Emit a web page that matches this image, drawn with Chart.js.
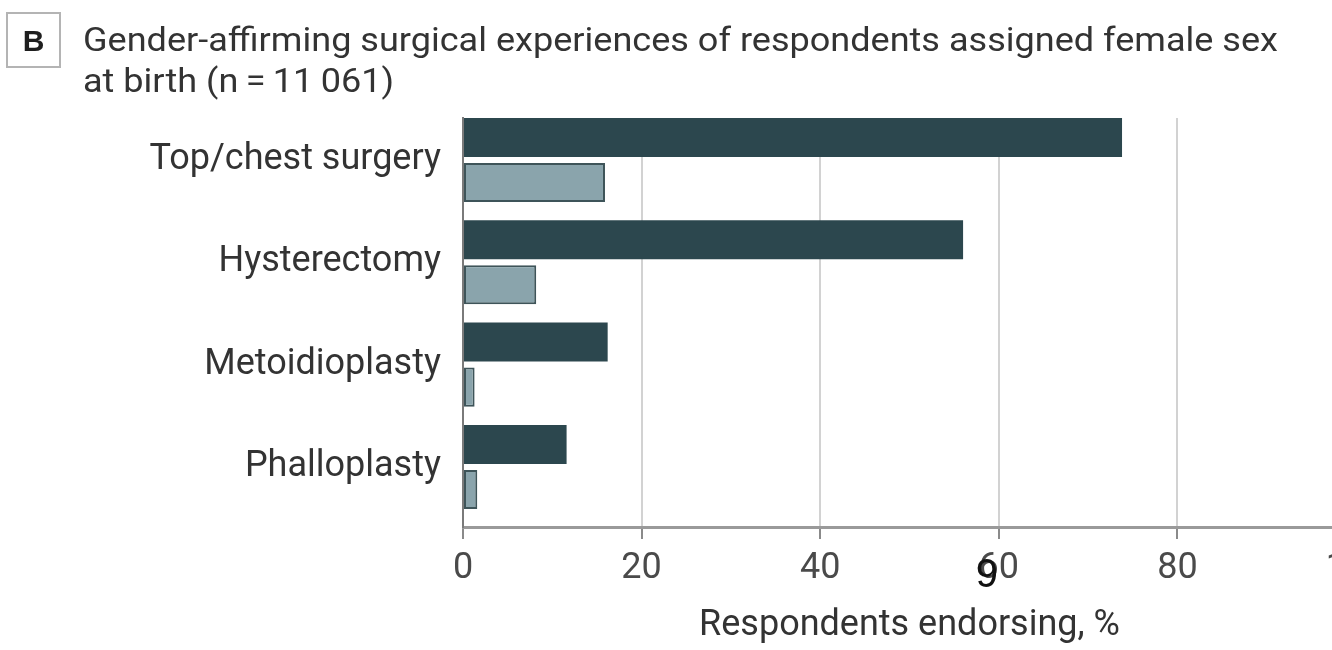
<!DOCTYPE html>
<html>
<head>
<meta charset="utf-8">
<script src="https://cdn.jsdelivr.net/npm/chart.js@4"></script>
<style>
  html, body { margin: 0; padding: 0; background: #fff; overflow: hidden; }
  #wrap { position: relative; width: 1332px; height: 650px; overflow: hidden; }
  #chart { position: absolute; left: 0; top: 0; }
  .panel {
    position: absolute; left: 6px; top: 12px; width: 51px; height: 52px;
    border: 2px solid #b4b4b4; color: #1e1e1e; text-align: center;
    font: bold 30px "Liberation Sans", Arial, sans-serif; line-height: 54px;
  }
  .title {
    position: absolute; left: 83px; top: 19px; color: #333;
    font: 34px Roboto, sans-serif; line-height: 41px; white-space: nowrap;
  }
</style>
</head>
<body>
<div id="wrap">
  <canvas id="chart" width="1400" height="650"></canvas>
  <div class="panel">B</div>
  <div class="title" id="title">
    <div id="t1">Gender-affirming surgical experiences of respondents assigned female sex</div>
    <div>at birth (n&thinsp;=&thinsp;11&thinsp;061)</div>
  </div>
</div>
<script>
const categories = ["Top/chest surgery", "Hysterectomy", "Metoidioplasty", "Phalloplasty"];
const hadSurgery = [73.8, 56.0, 16.2, 11.6];
const wantSurgery = [15.9, 8.2, 1.3, 1.6];
const xTicks = [0, 20, 40, 60, 80, 100];

const labelFont = "Roboto, sans-serif";

// squeeze the first title line to the width it has in the picture
const title = document.getElementById("title");
const w = document.getElementById("t1").getBoundingClientRect().width;
title.style.transformOrigin = "0 0";
title.style.transform = `scaleX(${1195 / w})`;

// category i sits at value i on a reversed linear axis
const toPoints = (arr) => arr.map((v, i) => ({ x: v, y: i }));

const ctx = document.getElementById("chart");
const config = {
  type: "bar",
  data: {
    datasets: [
      {
        label: "Had surgery",
        data: toPoints(hadSurgery),
        backgroundColor: "#2c474e",
        borderWidth: 0,
      },
      {
        label: "Want surgery",
        data: toPoints(wantSurgery),
        backgroundColor: "#8aa4ac",
        borderColor: "#3e5459",
        borderWidth: 2,
        borderSkipped: false,
      },
    ],
  },
  options: {
    indexAxis: "y",
    responsive: false,
    devicePixelRatio: 1,
    animation: false,
    events: [],
    categoryPercentage: 0.88,
    barPercentage: 0.867,
    layout: { padding: { top: 118, right: 44, left: 0, bottom: 0 } },
    plugins: { legend: { display: false }, tooltip: { enabled: false } },
    scales: {
      x: {
        type: "linear",
        min: 0,
        max: 100,
        afterBuildTicks: (scale) => {
          scale.ticks = xTicks.map((v) => ({ value: v }));
        },
        afterFit: (scale) => {
          scale.height = 123;
        },
        ticks: {
          font: { family: labelFont, size: 36 },
          color: "#4a4a4a",
          padding: 8,
          maxRotation: 0,
          autoSkip: false,
        },
        grid: {
          color: (c) => (c.tick && c.tick.value === 0 ? "rgba(0,0,0,0)" : "#d2d2d2"),
          lineWidth: 2,
          tickColor: "#8a8a8a",
          tickLength: 12,
        },
        border: { color: "#9a9a9a", width: 3 },
        title: {
          display: true,
          text: "Respondents endorsing, %",
          font: { family: labelFont, size: 36 },
          color: "#333",
          padding: { top: 0, bottom: 2 },
        },
      },
      y: {
        type: "linear",
        reverse: true,
        offset: false,
        min: -0.41,
        max: 3.587,
        afterBuildTicks: (scale) => {
          scale.ticks = categories.map((c, i) => ({ value: i }));
        },
        afterFit: (scale) => {
          scale.width = 463;
        },
        ticks: {
          callback: (v) => categories[v],
          font: { family: labelFont, size: 36 },
          color: "#333",
          padding: 22,
          autoSkip: false,
        },
        grid: { display: false, drawTicks: false },
        border: { color: "#7a7a7a", width: 2 },
      },
    },
  },
  plugins: [
    {
      // stray "9" that sits over the 60 tick in the source image
      afterDraw: (chart) => {
        const c = chart.ctx;
        const x = chart.scales.x.getPixelForValue(60) - 12;
        c.save();
        c.font = '40px "Liberation Sans", Arial, sans-serif';
        c.fillStyle = "#111";
        c.textAlign = "center";
        c.textBaseline = "alphabetic";
        c.fillText("9", x, 587);
        c.restore();
      },
    },
  ],
};

const barChart = new Chart(ctx, config);
</script>
</body>
</html>
